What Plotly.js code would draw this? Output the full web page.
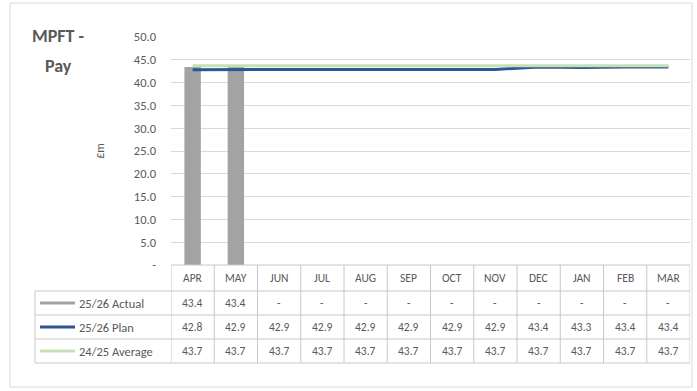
<!DOCTYPE html>
<html>
<head>
<meta charset="utf-8">
<script src="https://cdn.plot.ly/plotly-3.0.1.min.js"></script>
<style>
  html, body { margin: 0; padding: 0; background: #ffffff; }
  #chart { width: 697px; height: 391px; }
</style>
</head>
<body>
<div id="chart"></div>
<script>
// Monthly pay spend, £m
const months = ['APR', 'MAY', 'JUN', 'JUL', 'AUG', 'SEP', 'OCT', 'NOV', 'DEC', 'JAN', 'FEB', 'MAR'];
const actual2526 = [43.4, 43.4, null, null, null, null, null, null, null, null, null, null];
const plan2526 = [42.8, 42.9, 42.9, 42.9, 42.9, 42.9, 42.9, 42.9, 43.4, 43.3, 43.4, 43.4];
const average2425 = [43.7, 43.7, 43.7, 43.7, 43.7, 43.7, 43.7, 43.7, 43.7, 43.7, 43.7, 43.7];
const seriesNames = ['25/26 Actual', '25/26 Plan', '24/25 Average'];
const yTickVals = [0, 5, 10, 15, 20, 25, 30, 35, 40, 45, 50];
const yTickText = ['-', '5.0', '10.0', '15.0', '20.0', '25.0', '30.0', '35.0', '40.0', '45.0', '50.0'];
const titleLines = ['MPFT -', 'Pay'];

const W = 697, H = 391;
const plotL = 171, plotR = 690, plotT = 37, plotB = 265;
const colours = ['#a3a3a3', '#2f5597', '#c5e0b4'];
const textCol = '#595959';
const gridCol = '#c8c8c8';
const font = "Carlito, 'Liberation Sans Narrow', 'Liberation Sans', Arial, sans-serif";

// pixel -> paper helpers
const px = x => (x - plotL) / (plotR - plotL);
const py = y => (plotB - y) / (plotB - plotT);

const traces = [
  { type: 'bar', x: months, y: actual2526, name: seriesNames[0],
    marker: { color: colours[0] }, width: 0.38, hoverinfo: 'x+y' },
  { type: 'scatter', mode: 'lines', x: months, y: plan2526, name: seriesNames[1],
    line: { color: colours[1], width: 3 } },
  { type: 'scatter', mode: 'lines', x: months, y: average2425, name: seriesNames[2],
    line: { color: colours[2], width: 3 } }
];

// data table under the plot
const rowEdges = [265, 291, 315, 339, 363];
const legendL = 35;
const shapes = [];
const annotations = [];
const line = (x0, y0, x1, y1, xref) => shapes.push({
  type: 'line', xref: xref || 'paper', yref: 'paper',
  x0: x0, y0: py(y0), x1: x1, y1: py(y1),
  line: { color: gridCol, width: 1 }
});

// horizontal rules
line(px(plotL), rowEdges[0], px(plotR), rowEdges[0]);
for (let r = 1; r < rowEdges.length; r++) line(px(legendL), rowEdges[r], px(plotR), rowEdges[r]);
// vertical rules
line(px(legendL), rowEdges[1], px(legendL), rowEdges[4]);
for (let i = 0; i <= months.length; i++) {
  line(i - 0.5, rowEdges[0], i - 0.5, rowEdges[4], 'x');
}

const cellText = (x, y, t, xref, xanchor, size) => annotations.push({
  xref: xref || 'x', yref: 'paper', x: x, y: py(y), text: t, showarrow: false,
  xanchor: xanchor || 'center', yanchor: 'middle',
  font: { family: font, size: size || 11.5, color: textCol }
});

const fmt = v => (v === null || v === undefined) ? '-' : v.toFixed(1);
const rows = [actual2526, plan2526, average2425];
months.forEach((m, i) => {
  cellText(i, (rowEdges[0] + rowEdges[1]) / 2, m);
  rows.forEach((arr, r) => cellText(i, (rowEdges[r + 1] + rowEdges[r + 2]) / 2, fmt(arr[i])));
});

// legend keys in the first column
seriesNames.forEach((name, r) => {
  const yc = (rowEdges[r + 1] + rowEdges[r + 2]) / 2;
  shapes.push({ type: 'line', xref: 'paper', yref: 'paper',
    x0: px(40), x1: px(75), y0: py(yc), y1: py(yc),
    line: { color: colours[r], width: 3 } });
  cellText(px(77), yc, name, 'paper', 'left', 12.5);
});

// outer frame
shapes.push({ type: 'rect', xref: 'paper', yref: 'paper',
  x0: px(10), x1: px(692), y0: py(3), y1: py(387),
  line: { color: '#d9d9d9', width: 1 } });

// chart title, one annotation per line
titleLines.forEach((t, k) => annotations.push({
  xref: 'paper', yref: 'paper', x: px(58), y: py(36 + k * 30),
  text: '<b>' + t + '</b>', showarrow: false,
  xanchor: 'center', yanchor: 'middle',
  font: { family: font, size: 18, color: textCol } }));

const layout = {
  width: W, height: H,
  margin: { l: plotL, r: W - plotR, t: plotT, b: H - plotB, pad: 0 },
  paper_bgcolor: '#ffffff', plot_bgcolor: '#ffffff',
  showlegend: false,
  bargap: 0.6,
  xaxis: { type: 'category', showticklabels: false, showgrid: false,
    zeroline: false, showline: false, ticks: '', range: [-0.5, 11.5], fixedrange: true },
  yaxis: { range: [0, 50], tickvals: yTickVals, ticktext: yTickText,
    showgrid: true, gridcolor: '#d9d9d9', gridwidth: 1, zeroline: false,
    showline: false, ticks: '', ticklabelstandoff: 14,
    tickfont: { family: font, size: 12.5, color: textCol },
    title: { text: '£m', standoff: 26, font: { family: font, size: 12, color: textCol } } },
  shapes: shapes,
  annotations: annotations
};

Plotly.newPlot('chart', traces, layout, { staticPlot: true, displayModeBar: false });
</script>
</body>
</html>
